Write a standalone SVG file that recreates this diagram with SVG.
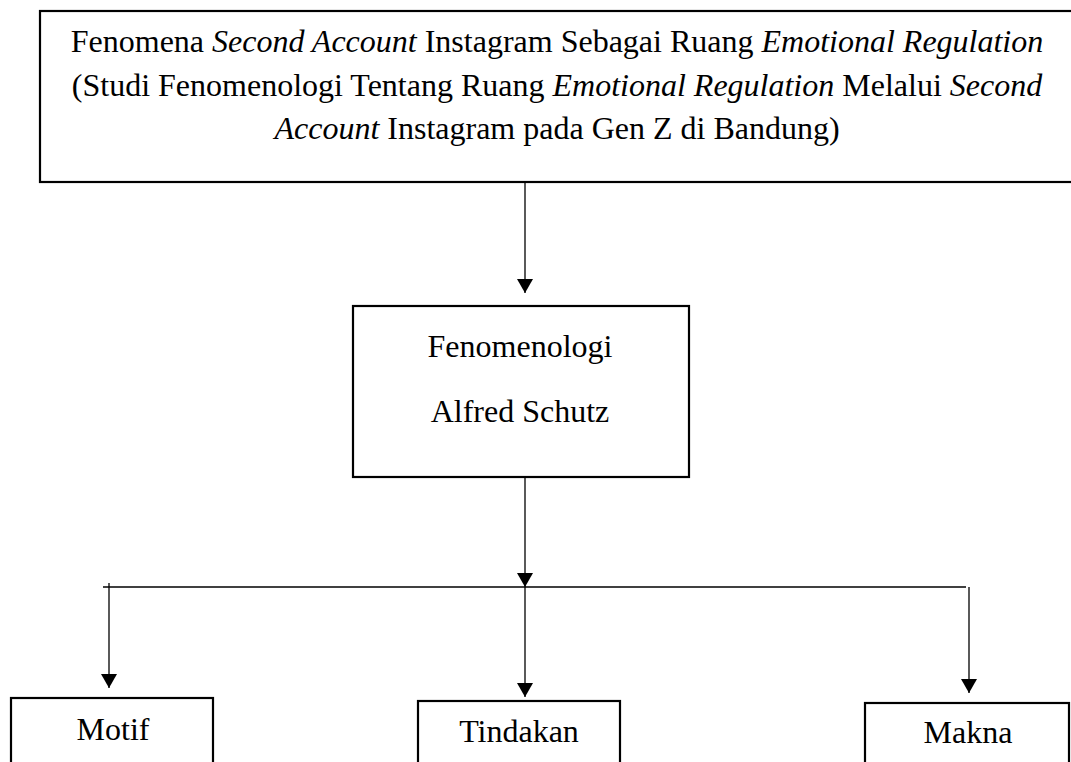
<svg xmlns="http://www.w3.org/2000/svg" width="1071" height="762" viewBox="0 0 1071 762">
<style>
.box{fill:#fff;stroke:#000;stroke-width:2.2}
.t{font-family:"Liberation Serif","Times New Roman",serif;font-size:32px;fill:#000}
.i{font-style:italic}
.c{stroke:#000;stroke-width:1.3;fill:none}
</style>
<defs>
<marker id="ah" viewBox="0 0 14 16" refX="14" refY="8" markerWidth="14" markerHeight="16" markerUnits="userSpaceOnUse" orient="auto">
<path d="M0,0 L14,8 L0,16 z" fill="#000"/>
</marker>
</defs>
<rect width="1071" height="762" fill="#fff"/>
<g id="connectors">
<line class="c" x1="525" y1="183" x2="525" y2="293" marker-end="url(#ah)"/>
<line class="c" x1="525" y1="478" x2="525" y2="587" marker-end="url(#ah)"/>
<line class="c" x1="103" y1="587" x2="966" y2="587"/>
<line class="c" x1="109" y1="583" x2="109" y2="688" marker-end="url(#ah)"/>
<line class="c" x1="525" y1="587" x2="525" y2="697" marker-end="url(#ah)"/>
<line class="c" x1="969" y1="587" x2="969" y2="693" marker-end="url(#ah)"/>
</g>
<g id="node-title">
<rect class="box" x="40" y="11" width="1040" height="171"/>
<text class="t" x="557" y="52" text-anchor="middle">Fenomena <tspan class="i">Second Account</tspan> Instagram Sebagai Ruang <tspan class="i">Emotional Regulation</tspan></text>
<text class="t" x="557" y="96" text-anchor="middle">(Studi Fenomenologi Tentang Ruang <tspan class="i">Emotional Regulation</tspan> Melalui <tspan class="i">Second</tspan></text>
<text class="t" x="557" y="139" text-anchor="middle"><tspan class="i">Account</tspan> Instagram pada Gen Z di Bandung)</text>
</g>
<g id="node-fenomenologi">
<rect class="box" x="353" y="306" width="336" height="171"/>
<text class="t" x="520" y="357" text-anchor="middle">Fenomenologi</text>
<text class="t" x="520" y="422" text-anchor="middle">Alfred Schutz</text>
</g>
<g id="node-motif">
<rect class="box" x="11" y="698" width="202" height="80"/>
<text class="t" x="113" y="740" text-anchor="middle">Motif</text>
</g>
<g id="node-tindakan">
<rect class="box" x="418" y="701" width="202" height="80"/>
<text class="t" x="519" y="742" text-anchor="middle">Tindakan</text>
</g>
<g id="node-makna">
<rect class="box" x="865" y="703" width="204" height="80"/>
<text class="t" x="968" y="743" text-anchor="middle">Makna</text>
</g>
</svg>
